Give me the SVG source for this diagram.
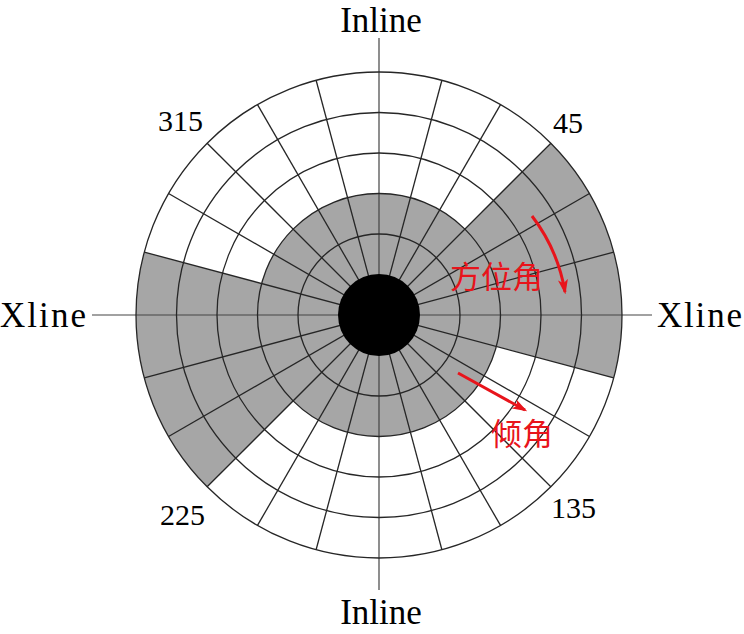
<svg xmlns="http://www.w3.org/2000/svg" width="744" height="634" viewBox="0 0 744 634">
<style>
.grid{fill:none;stroke:#262626;stroke-width:1.3}
.axis{stroke:#444;stroke-width:1.2}
.gray{fill:#a6a6a6;stroke:none}
.lbl{font-family:"Liberation Serif","Times New Roman",serif;fill:#000}
.ax{font-size:35px}
.num{font-size:30px}
.red{font-family:"Noto Sans CJK SC","Noto Sans",sans-serif;font-size:31px;fill:#e8141b}
.arr{fill:none;stroke:#e8141b;stroke-width:3}
</style>
<defs>
<marker id="ah" viewBox="0 0 12 8" refX="10" refY="4" markerWidth="5" markerHeight="4" orient="auto" markerUnits="strokeWidth">
<path d="M0,0 L12,4 L0,8 L3,4 Z" fill="#e8141b"/>
</marker>
</defs>
<rect width="744" height="634" fill="#fff"/>
<g id="fill">
<circle class="gray" cx="379" cy="315" r="121.5"/>
<path class="gray" d="M379,315 L550.83,143.17 A243,243 0 0 1 613.72,377.89 Z"/>
<path class="gray" d="M379,315 L207.17,486.83 A243,243 0 0 1 144.28,252.11 Z"/>
</g>
<g id="connectors">
<line class="axis" x1="379" y1="38" x2="379" y2="590"/>
<line class="axis" x1="92" y1="315" x2="652" y2="315"/>
<g class="grid">
<line x1="379" y1="72" x2="379" y2="558" transform="rotate(15 379 315)"/>
<line x1="379" y1="72" x2="379" y2="558" transform="rotate(30 379 315)"/>
<line x1="379" y1="72" x2="379" y2="558" transform="rotate(45 379 315)"/>
<line x1="379" y1="72" x2="379" y2="558" transform="rotate(60 379 315)"/>
<line x1="379" y1="72" x2="379" y2="558" transform="rotate(75 379 315)"/>
<line x1="379" y1="72" x2="379" y2="558" transform="rotate(105 379 315)"/>
<line x1="379" y1="72" x2="379" y2="558" transform="rotate(120 379 315)"/>
<line x1="379" y1="72" x2="379" y2="558" transform="rotate(135 379 315)"/>
<line x1="379" y1="72" x2="379" y2="558" transform="rotate(150 379 315)"/>
<line x1="379" y1="72" x2="379" y2="558" transform="rotate(165 379 315)"/>
<circle cx="379" cy="315" r="81"/>
<circle cx="379" cy="315" r="121.5"/>
<circle cx="379" cy="315" r="162"/>
<circle cx="379" cy="315" r="202.5"/>
<circle cx="379" cy="315" r="243"/>
</g>
<path class="arr" d="M532,216 Q558,250 565,292" marker-end="url(#ah)"/>
<path class="arr" d="M458,373 L525,410" marker-end="url(#ah)"/>
</g>
<g id="center"><circle cx="379" cy="315" r="41" fill="#000"/></g>
<g id="labels">
<text class="lbl ax" x="381" y="32" text-anchor="middle">Inline</text>
<text class="lbl ax" x="381" y="624" text-anchor="middle">Inline</text>
<text class="lbl ax" x="0" y="327" textLength="86">Xline</text>
<text class="lbl ax" x="657" y="327" textLength="85">Xline</text>
<text class="lbl num" x="158" y="131">315</text>
<text class="lbl num" x="553" y="133">45</text>
<text class="lbl num" x="160" y="525">225</text>
<text class="lbl num" x="551" y="518">135</text>
<text class="red" x="450" y="288">方位角</text>
<text class="red" x="491" y="445">倾角</text>
</g>
</svg>
